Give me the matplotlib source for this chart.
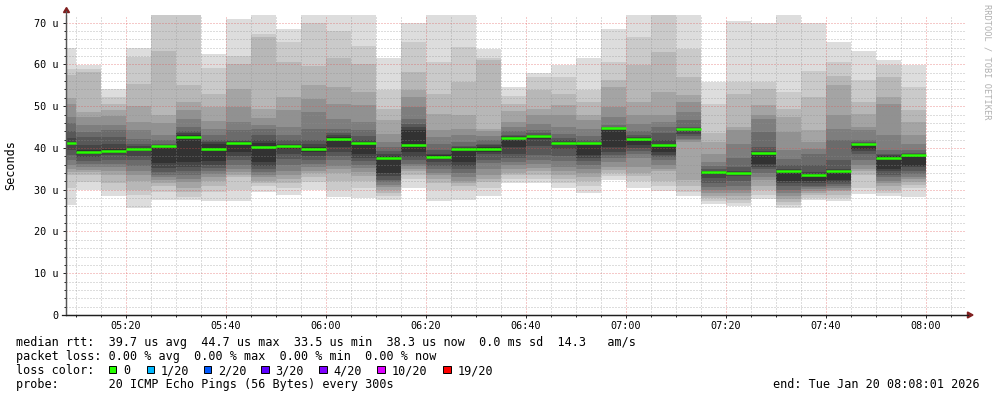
import matplotlib
matplotlib.use("Agg")
import matplotlib.pyplot as plt
from matplotlib.patches import Rectangle, Polygon
from matplotlib.lines import Line2D
from matplotlib.ticker import MultipleLocator, FixedLocator

# ---------------- data ----------------
axis_start = "05:08"
axis_end = "08:08"
bin_end = ["05:10", "05:15", "05:20", "05:25", "05:30", "05:35", "05:40", "05:45",
           "05:50", "05:55", "06:00", "06:05", "06:10", "06:15", "06:20", "06:25",
           "06:30", "06:35", "06:40", "06:45", "06:50", "06:55", "07:00", "07:05",
           "07:10", "07:15", "07:20", "07:25", "07:30", "07:35", "07:40", "07:45",
           "07:50", "07:55", "08:00"]

median_rtt = [41.2, 39.0, 39.3, 39.7, 40.4, 42.6, 39.8, 41.3, 40.2, 40.4,
              39.8, 42.2, 41.2, 37.6, 40.7, 37.8, 39.7, 39.7, 42.3, 42.8,
              41.3, 41.2, 44.7, 42.2, 40.7, 44.5, 34.2, 34.1, 38.8, 34.6,
              33.5, 34.6, 40.9, 37.7, 38.3]

# sorted pings per bin: upper half (ping20 .. ping11), lower half (ping10 .. ping1)
smoke_top = [
    [64.0, 59.0, 57.5, 52.0, 50.5, 47.5, 46.0, 44.0, 42.5, 41.5],
    [59.9, 58.8, 58.1, 48.6, 47.4, 45.4, 43.8, 42.6, 40.6, 39.6],
    [54.0, 52.2, 50.6, 49.0, 47.6, 45.4, 44.2, 42.6, 41.0, 39.8],
    [64.0, 61.7, 55.4, 50.0, 46.2, 44.2, 42.2, 41.0, 40.4, 40.0],
    [78.0, 72.5, 63.1, 48.0, 46.0, 43.0, 41.8, 41.0, 40.8, 40.5],
    [80.0, 73.0, 55.0, 51.1, 49.0, 47.0, 45.0, 44.0, 43.5, 43.0],
    [62.5, 59.1, 53.0, 49.8, 46.5, 44.6, 43.0, 42.0, 41.4, 41.0],
    [71.0, 62.0, 60.0, 54.1, 49.8, 46.2, 44.2, 42.0, 41.6, 41.5],
    [72.5, 67.3, 66.5, 49.4, 47.2, 45.6, 44.5, 43.0, 41.8, 41.2],
    [68.6, 65.3, 60.5, 52.2, 49.0, 45.0, 43.0, 41.8, 41.0, 40.7],
    [72.0, 69.9, 59.7, 55.0, 51.8, 48.6, 44.6, 42.0, 41.0, 40.3],
    [72.5, 68.1, 61.5, 54.5, 50.6, 47.0, 44.6, 43.5, 43.0, 42.6],
    [72.0, 64.5, 60.1, 53.4, 50.2, 46.2, 44.2, 42.8, 42.0, 41.5],
    [61.5, 53.8, 49.4, 46.6, 43.4, 41.5, 40.2, 39.2, 38.5, 38.0],
    [70.0, 65.3, 58.1, 53.8, 52.2, 49.8, 47.0, 45.8, 45.0, 44.2],
    [72.5, 60.5, 53.0, 48.2, 44.2, 42.6, 41.0, 39.4, 38.6, 38.2],
    [72.5, 64.1, 55.7, 47.8, 44.6, 43.0, 41.4, 40.5, 40.2, 39.9],
    [63.6, 61.5, 61.0, 44.6, 44.0, 42.8, 41.8, 41.0, 40.6, 40.2],
    [54.5, 52.5, 50.6, 48.8, 46.2, 45.0, 44.0, 43.2, 42.8, 42.6],
    [58.0, 56.9, 53.8, 49.4, 47.8, 45.8, 44.2, 43.6, 43.2, 43.0],
    [59.9, 57.0, 53.0, 50.2, 47.8, 45.0, 43.4, 42.5, 41.8, 41.5],
    [61.5, 53.8, 51.0, 47.8, 46.6, 44.6, 42.8, 41.8, 41.5, 41.3],
    [68.4, 60.5, 56.2, 54.5, 49.8, 47.4, 45.4, 45.0, 44.9, 44.8],
    [72.5, 66.5, 59.9, 51.0, 48.0, 45.8, 44.0, 43.0, 42.6, 42.4],
    [80.0, 72.5, 63.0, 53.4, 48.0, 46.2, 45.0, 43.5, 41.8, 41.0],
    [72.5, 63.7, 57.0, 52.6, 51.0, 48.6, 46.6, 45.0, 44.8, 44.6],
    [55.7, 50.6, 43.5, 41.4, 38.5, 36.6, 35.8, 35.0, 34.6, 34.4],
    [70.5, 55.7, 53.0, 45.0, 44.2, 41.0, 37.5, 35.5, 34.6, 34.3],
    [70.0, 55.7, 54.2, 50.2, 47.8, 47.0, 43.8, 40.2, 39.2, 38.9],
    [72.5, 53.4, 49.4, 47.4, 43.8, 39.4, 37.4, 36.0, 35.0, 34.8],
    [69.9, 58.5, 52.2, 44.2, 41.4, 39.8, 38.5, 36.0, 34.2, 33.8],
    [65.3, 60.5, 57.3, 55.0, 47.8, 44.6, 42.0, 37.0, 35.0, 34.8],
    [63.3, 56.2, 51.0, 48.2, 45.0, 44.2, 42.0, 41.4, 41.2, 41.0],
    [61.0, 59.8, 57.0, 52.2, 50.6, 43.0, 39.4, 38.6, 38.2, 38.0],
    [59.8, 54.5, 49.0, 46.2, 43.0, 41.0, 39.5, 38.8, 38.6, 38.5],
]
smoke_bottom = [
    [40.8, 39.5, 38.2, 37.0, 36.0, 35.0, 34.2, 33.5, 30.3, 26.3],
    [38.6, 37.8, 36.9, 36.2, 35.5, 34.8, 34.2, 33.6, 31.8, 29.9],
    [38.8, 38.2, 37.0, 36.2, 35.4, 34.5, 33.5, 31.5, 29.9, 28.5],
    [39.2, 38.0, 37.0, 35.8, 34.5, 33.5, 32.0, 30.0, 28.7, 25.7],
    [36.4, 35.2, 34.2, 33.6, 33.0, 32.4, 31.6, 30.8, 29.5, 27.5],
    [36.6, 35.5, 34.5, 33.5, 32.5, 31.8, 30.3, 29.4, 28.3, 27.5],
    [36.8, 36.0, 35.2, 34.5, 33.8, 33.0, 32.0, 31.0, 29.5, 27.4],
    [39.0, 38.0, 37.0, 36.0, 35.0, 34.2, 33.6, 33.0, 30.0, 27.2],
    [36.6, 35.8, 35.0, 34.2, 33.6, 33.0, 32.2, 31.5, 30.8, 29.5],
    [39.8, 38.5, 37.3, 36.0, 34.5, 33.5, 32.5, 31.5, 30.3, 28.7],
    [39.0, 38.0, 37.0, 36.2, 35.5, 34.6, 33.9, 33.0, 31.8, 29.9],
    [40.2, 39.0, 38.0, 37.0, 35.8, 35.0, 34.0, 32.0, 30.0, 28.3],
    [38.6, 37.6, 36.8, 36.0, 35.2, 34.2, 33.2, 32.0, 30.3, 28.1],
    [34.0, 33.2, 32.4, 31.8, 31.2, 30.6, 30.0, 29.2, 28.5, 27.5],
    [39.0, 37.8, 37.0, 36.2, 35.8, 35.0, 34.5, 33.5, 32.5, 30.3],
    [37.4, 36.6, 35.8, 35.0, 34.0, 33.5, 32.5, 31.5, 30.0, 27.4],
    [36.6, 35.8, 35.0, 34.0, 33.0, 32.2, 31.6, 31.0, 29.9, 27.6],
    [39.0, 38.5, 37.2, 36.5, 35.0, 33.5, 32.5, 31.8, 30.5, 28.4],
    [40.2, 38.5, 37.5, 36.6, 36.0, 35.0, 34.0, 33.5, 32.5, 31.5],
    [42.2, 40.5, 38.2, 37.0, 36.2, 35.2, 34.4, 33.5, 32.6, 31.5],
    [40.6, 39.8, 38.0, 36.8, 35.5, 34.5, 33.5, 32.6, 31.5, 30.3],
    [38.2, 37.5, 36.8, 36.0, 35.0, 34.0, 33.0, 32.2, 31.0, 29.3],
    [40.2, 39.0, 38.2, 37.6, 36.6, 35.5, 34.8, 34.0, 33.2, 32.3],
    [40.8, 40.0, 39.3, 38.5, 37.5, 35.5, 34.0, 33.2, 32.0, 30.5],
    [39.0, 38.4, 37.8, 37.0, 36.0, 35.0, 34.5, 32.0, 30.8, 29.8],
    [44.0, 43.4, 42.8, 42.2, 41.8, 41.4, 32.3, 30.8, 29.5, 28.4],
    [33.8, 32.8, 31.5, 30.7, 30.0, 29.2, 28.6, 28.0, 27.3, 26.6],
    [33.8, 33.2, 32.2, 31.0, 30.0, 29.2, 28.4, 27.6, 26.8, 26.0],
    [36.2, 35.5, 35.0, 34.0, 33.0, 32.3, 31.0, 30.0, 28.8, 27.8],
    [32.2, 31.5, 30.8, 30.0, 29.2, 28.5, 27.8, 27.0, 26.3, 25.7],
    [32.0, 31.5, 31.0, 30.6, 30.2, 29.8, 29.2, 28.7, 28.0, 27.5],
    [32.3, 31.8, 31.3, 30.8, 30.4, 30.0, 29.6, 28.7, 28.0, 27.2],
    [39.8, 39.2, 38.6, 37.0, 36.0, 35.0, 34.5, 33.5, 30.5, 29.0],
    [35.0, 34.5, 33.6, 33.0, 32.2, 31.5, 30.8, 30.0, 29.3, 28.5],
    [35.8, 35.4, 34.5, 33.7, 33.0, 32.5, 31.9, 31.2, 30.5, 28.2],
]

y_max = 71.84
ytick_values = [0, 10, 20, 30, 40, 50, 60, 70]
ytick_labels = ["0", "10 u", "20 u", "30 u", "40 u", "50 u", "60 u", "70 u"]
xtick_times = ["05:20", "05:40", "06:00", "06:20", "06:40", "07:00", "07:20", "07:40", "08:00"]
loss_labels = ["0", "1/20", "2/20", "3/20", "4/20", "10/20", "19/20"]
loss_colors = ["#26ff00", "#00b8ff", "#0059ff", "#5e00ff", "#7e00ff", "#dd00ff", "#ff0000"]

line_rtt = "median rtt:  39.7 us avg  44.7 us max  33.5 us min  38.3 us now  0.0 ms sd  14.3   am/s"
line_loss = "packet loss: 0.00 % avg  0.00 % max  0.00 % min  0.00 % now"
line_probe = "probe:       20 ICMP Echo Pings (56 Bytes) every 300s"
line_end = "end: Tue Jan 20 08:08:01 2026"

# ---------------- helpers ----------------
W, H = 997, 397
MONO = "DejaVu Sans Mono"


def tmin(s):
    h, m = s.split(":")
    return (int(h) - 5) * 60 + int(m)


def fx(px):
    return px / W


def fy(py):
    return 1 - py / H


fig = plt.figure(figsize=(W / 100, H / 100), dpi=100)
fig.patch.set_facecolor("white")
ax = fig.add_axes([fx(66), fy(315), 900 / W, 300 / H])
ax.set_facecolor("white")
ax.set_xlim(tmin(axis_start), tmin(axis_end))
ax.set_ylim(0, y_max)

starts = [tmin(axis_start)] + [tmin(t) for t in bin_end[:-1]]
ends = [tmin(t) for t in bin_end]
widths = [e - s for s, e in zip(starts, ends)]

# smoke bands: outer (light) to inner (dark)
for k in range(10):
    g = 221 - 19 * k
    col = "#%02x%02x%02x" % (g, g, g)
    tops = [row[k] for row in smoke_top]
    bots = [row[9 - k] for row in smoke_bottom]
    ax.bar(starts, [t - b for t, b in zip(tops, bots)], width=widths, bottom=bots,
           align="edge", color=col, linewidth=0, zorder=1, antialiased=False)

# grid (drawn on top of the smoke)
ax.xaxis.set_major_locator(FixedLocator([tmin(t) for t in xtick_times]))
ax.xaxis.set_minor_locator(MultipleLocator(5))
ax.yaxis.set_major_locator(FixedLocator(ytick_values))
ax.yaxis.set_minor_locator(MultipleLocator(2))
ax.set_axisbelow(False)
ax.grid(which="minor", color=(0.56, 0.56, 0.56), alpha=0.6, linestyle=(0, (1, 2)),
        linewidth=0.72)
ax.grid(which="major", color=(0.87, 0.31, 0.31), alpha=0.6, linestyle=(0, (1, 2)),
        linewidth=0.72)

# median line
ax.hlines(median_rtt, starts, ends, colors=loss_colors[0], linewidth=1.8, zorder=3,
          capstyle="butt")

# axes decoration
for s in ["top", "right"]:
    ax.spines[s].set_visible(False)
ax.spines["left"].set_color("#555555")
ax.spines["left"].set_linewidth(0.9)
ax.spines["bottom"].set_color("#1f1f1f")
ax.spines["bottom"].set_linewidth(0.9)
ax.spines["left"].set_zorder(4)
ax.spines["bottom"].set_zorder(4)

ax.set_xticklabels(xtick_times)
ax.set_yticklabels(ytick_labels)
ax.tick_params(axis="both", which="major", length=2.2, width=0.7, color="#1f1f1f",
               labelsize=7.3, direction="out")
ax.tick_params(axis="both", which="minor", length=1.4, width=0.7, color="#1f1f1f")
ax.tick_params(axis="x", pad=2.2)
ax.tick_params(axis="y", pad=3.2)
for lab in ax.get_xticklabels() + ax.get_yticklabels():
    lab.set_fontfamily(MONO)

# arrows
fig.add_artist(Line2D([fx(66), fx(66)], [fy(315), fy(11)], color="#555555", lw=0.9,
                      transform=fig.transFigure))
fig.add_artist(Line2D([fx(62), fx(968)], [fy(315), fy(315)], color="#1f1f1f", lw=0.9,
                      transform=fig.transFigure))
fig.add_artist(Polygon([[fx(63.5), fy(12.5)], [fx(69.5), fy(12.5)], [fx(66.5), fy(7.5)]],
                       closed=True, color="#801f1f", transform=fig.transFigure))
fig.add_artist(Polygon([[fx(967.5), fy(312)], [fx(967.5), fy(318)], [fx(973), fy(315)]],
                       closed=True, color="#801f1f", transform=fig.transFigure))

# labels
fig.text(fx(11), fy(165), "Seconds", rotation=90, ha="center", va="center",
         family=MONO, size=8.5)
fig.text(fx(987), fy(4), "RRDTOOL / TOBI OETIKER", rotation=270, ha="center", va="top",
         family=MONO, size=6.2, color="#b0b0b0")

fs = 8.45
fig.text(fx(16), fy(346), line_rtt, family=MONO, size=fs, va="baseline")
fig.text(fx(16), fy(360), line_loss, family=MONO, size=fs, va="baseline")
fig.text(fx(16), fy(374), "loss color:", family=MONO, size=fs, va="baseline")
fig.text(fx(16), fy(388), line_probe, family=MONO, size=fs, va="baseline")
fig.text(fx(980), fy(388), line_end, family=MONO, size=fs, va="baseline", ha="right")

box_x = [108.5, 146.5, 203.5, 261.0, 319.0, 377.0, 443.0]
for bx, lab, col in zip(box_x, loss_labels, loss_colors):
    fig.add_artist(Rectangle((fx(bx), fy(373)), 7.5 / W, 7.5 / H, facecolor=col,
                             edgecolor="black", linewidth=0.7, transform=fig.transFigure))
    fig.text(fx(bx + 14.5), fy(374), lab, family=MONO, size=fs, va="baseline")

fig.savefig("out.png", dpi=100, facecolor="white")
